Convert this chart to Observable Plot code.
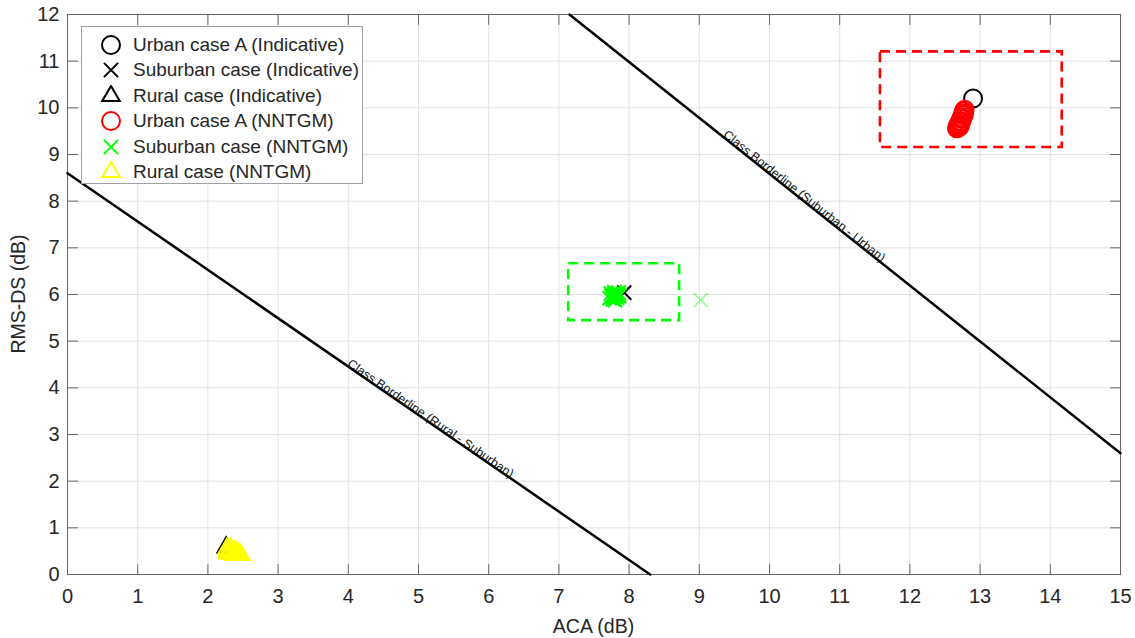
<!DOCTYPE html>
<html>
<head>
<meta charset="utf-8">
<script src="https://cdn.jsdelivr.net/npm/d3@7"></script>
<script src="https://cdn.jsdelivr.net/npm/@observablehq/plot@0.6"></script>
<style>
  body { margin: 0; background: #fff; }
  #wrap { position: relative; width: 1135px; height: 638px; font-family: "Liberation Sans", Arial, sans-serif; }
  #legend { position: absolute; left: 81px; top: 26px; width: 282px; height: 158px; border: 1px solid #a0a0a0; background: #fff; box-sizing: border-box; }
  .row { position: absolute; left: 0; height: 26px; display: flex; align-items: center; font-size: 19px; color: #262626; white-space: nowrap; }
  .row svg { margin-left: 18px; margin-right: 11px; }
  .atitle { position: absolute; font-size: 19.5px; color: #262626; white-space: nowrap; transform-origin: center center; }
</style>
</head>
<body>
<div id="wrap"><div id="legend"></div></div>
<script>
// ---------- data ----------
const xTicks = [0, 1, 2, 3, 4, 5, 6, 7, 8, 9, 10, 11, 12, 13, 14, 15];
const yTicks = [0, 1, 2, 3, 4, 5, 6, 7, 8, 9, 10, 11, 12];
const xTitle = "ACA (dB)";
const yTitle = "RMS-DS (dB)";

const legendLabels = [
  "Urban case A (Indicative)",
  "Suburban case (Indicative)",
  "Rural case (Indicative)",
  "Urban case A (NNTGM)",
  "Suburban case (NNTGM)",
  "Rural case (NNTGM)"
];
const legendSymbols = ["circle", "times", "triangle", "circle", "times", "triangle"];
const legendColors = ["#000000", "#000000", "#000000", "#ff0000", "#00ff00", "#ffff00"];

// Indicative (ACA, RMS-DS)
const urbanIndicative = [[12.9, 10.2]];
const suburbanIndicative = [[7.93, 6.04]];
const ruralIndicative = [[2.26, 0.58]];

// NNTGM (ACA, RMS-DS)
const urbanNNTGM = [
  [12.67, 9.56], [12.68, 9.6], [12.69, 9.63], [12.69, 9.58], [12.7, 9.66],
  [12.71, 9.69], [12.7, 9.62], [12.72, 9.72], [12.73, 9.76], [12.74, 9.8],
  [12.75, 9.84], [12.76, 9.88], [12.77, 9.92], [12.78, 9.96], [12.71, 9.6],
  [12.73, 9.7], [12.75, 9.78], [12.77, 9.86]
];
const suburbanNNTGM = [
  [7.72, 5.92], [7.75, 5.96], [7.78, 6.0], [7.8, 5.95], [7.82, 6.02],
  [7.84, 5.98], [7.85, 6.04], [7.77, 5.9], [7.8, 5.88], [7.83, 5.93],
  [7.86, 5.97], [7.74, 6.02], [7.79, 6.05], [7.76, 5.94], [7.81, 5.99]
];
const suburbanNNTGMOutlier = [[9.02, 5.88]];
const ruralNNTGM = [
  [2.27, 0.55], [2.3, 0.52], [2.33, 0.5], [2.36, 0.48], [2.4, 0.45],
  [2.44, 0.43], [2.47, 0.42], [2.3, 0.47], [2.35, 0.44], [2.38, 0.5],
  [2.28, 0.45], [2.42, 0.48], [2.32, 0.56], [2.29, 0.5], [2.37, 0.42]
];

// class borderlines (end points) and their labels
const borderRuralSuburban = [[0, 8.6], [8.3, 0]];
const borderSuburbanUrban = [[7.15, 12], [15, 2.6]];
const borderLabels = ["Class Borderline (Rural - Suburban)", "Class Borderline (Suburban - Urban)"];
const borderLabelX = [5.14, 10.46];
const borderLabelY = [3.27, 8.04];

// dashed boxes around clusters
const boxX1 = [7.14, 11.58];
const boxX2 = [8.72, 14.17];
const boxY1 = [5.44, 9.15];
const boxY2 = [6.66, 11.2];
const boxColors = ["#00ff00", "#ff0000"];

// ---------- layout ----------
const W = 1135, H = 638;
const mL = 67, mR = 15, mT = 14, mB = 64;
const xDomain = [0, 15], yDomain = [0, 12];
const kx = (W - mL - mR) / (xDomain[1] - xDomain[0]);
const ky = (H - mT - mB) / (yDomain[1] - yDomain[0]);
const lineAngle = (seg) => Math.atan2(-(seg[1][1] - seg[0][1]) * ky, (seg[1][0] - seg[0][0]) * kx) * 180 / Math.PI;
const borderAngles = [lineAngle(borderRuralSuburban), lineAngle(borderSuburbanUrban)];
const labelData = borderLabels.map((t, i) => ({t, x: borderLabelX[i], y: borderLabelY[i], a: borderAngles[i]}));
const boxes = boxX1.map((_, i) => ({x1: boxX1[i], x2: boxX2[i], y1: boxY1[i], y2: boxY2[i], c: boxColors[i]}));

const axisColor = "#666666";
const tickShape = {draw(context, l) { context.moveTo(0, 0); context.lineTo(0, -l); }};
const tickLen = 10;
const X = d => d[0], Y = d => d[1];

const chart = Plot.plot({
  width: W, height: H,
  marginLeft: mL, marginRight: mR, marginTop: mT, marginBottom: mB,
  x: {domain: xDomain},
  y: {domain: yDomain},
  style: {fontFamily: "Liberation Sans, Arial, sans-serif", fontSize: "20px", color: "#262626", background: "white"},
  marks: [
    Plot.gridX(xTicks, {stroke: "#e2e2e2", strokeOpacity: 1}),
    Plot.gridY(yTicks, {stroke: "#e2e2e2", strokeOpacity: 1}),
    // inward ticks on all four sides
    Plot.vector(xTicks, {x: d => d, frameAnchor: "bottom", rotate: 0, length: tickLen, anchor: "start", shape: tickShape, stroke: axisColor, strokeWidth: 1, fill: "none"}),
    Plot.vector(xTicks, {x: d => d, frameAnchor: "top", rotate: 180, length: tickLen, anchor: "start", shape: tickShape, stroke: axisColor, strokeWidth: 1, fill: "none"}),
    Plot.vector(yTicks, {y: d => d, frameAnchor: "left", rotate: 90, length: tickLen, anchor: "start", shape: tickShape, stroke: axisColor, strokeWidth: 1, fill: "none"}),
    Plot.vector(yTicks, {y: d => d, frameAnchor: "right", rotate: -90, length: tickLen, anchor: "start", shape: tickShape, stroke: axisColor, strokeWidth: 1, fill: "none"}),
    Plot.axisX({ticks: xTicks, tickSize: 0, tickPadding: 14, fontSize: 20, label: null}),
    Plot.axisY({ticks: yTicks, tickSize: 0, tickPadding: 8, fontSize: 20, label: null}),
    Plot.frame({stroke: axisColor, strokeWidth: 1}),
    // borderlines
    Plot.line(borderRuralSuburban, {x: X, y: Y, stroke: "#000", strokeWidth: 2.5}),
    Plot.line(borderSuburbanUrban, {x: X, y: Y, stroke: "#000", strokeWidth: 2.5}),
    Plot.text(labelData, {x: "x", y: "y", text: "t", rotate: "a", lineAnchor: "bottom", textAnchor: "middle", fontSize: 12.5, fill: "#111"}),
    // dashed boxes
    Plot.rect(boxes, {x1: "x1", x2: "x2", y1: "y1", y2: "y2", fill: "none", stroke: "c", strokeWidth: 2.6, strokeDasharray: "10,6"}),
    // indicative (black)
    Plot.dot(urbanIndicative, {x: X, y: Y, symbol: "circle", r: 9, stroke: "#000", strokeWidth: 2, fill: "none"}),
    Plot.dot(suburbanIndicative, {x: X, y: Y, symbol: "times", r: 6.5, stroke: "#000", strokeWidth: 2, fill: "none"}),
    Plot.dot(ruralIndicative, {x: X, y: Y, symbol: "triangle", r: 6.5, stroke: "#000", strokeWidth: 2, fill: "none"}),
    // NNTGM (colored)
    Plot.dot(urbanNNTGM, {x: X, y: Y, symbol: "circle", r: 9, stroke: "#ff0000", strokeWidth: 2, fill: "none"}),
    Plot.dot(suburbanNNTGM, {x: X, y: Y, symbol: "times", r: 6.5, stroke: "#00ff00", strokeWidth: 2, fill: "none"}),
    Plot.dot(suburbanNNTGMOutlier, {x: X, y: Y, symbol: "times", r: 6.5, stroke: "#00ff00", strokeOpacity: 0.55, strokeWidth: 1.2, fill: "none"}),
    Plot.dot(ruralNNTGM, {x: X, y: Y, symbol: "triangle", r: 6.5, stroke: "#ffff00", strokeWidth: 2, fill: "none"})
  ]
});
const wrap = document.getElementById("wrap");
wrap.insertBefore(chart, wrap.firstChild);

// ---------- axis titles (HTML, centred on the plot frame) ----------
const xt = d3.select(wrap).append("div").attr("class", "atitle").text(xTitle)
  .style("left", (mL + (W - mL - mR) / 2) + "px").style("top", "626px")
  .style("transform", "translate(-50%, -50%)");
const yt = d3.select(wrap).append("div").attr("class", "atitle").text(yTitle)
  .style("left", "18px").style("top", (mT + (H - mT - mB) / 2) + "px")
  .style("transform", "translate(-50%, -50%) rotate(-90deg)");

// ---------- legend ----------
const symbolMap = {circle: [d3.symbolCircle, 9], times: [d3.symbolTimes, 6.5], triangle: [d3.symbolTriangle, 6.5]};
const legend = d3.select("#legend");
legendLabels.forEach((label, i) => {
  const row = legend.append("div").attr("class", "row").style("top", (5 + i * 25.4) + "px");
  const svg = row.append("svg").attr("width", 22).attr("height", 22).attr("viewBox", "-11 -11 22 22");
  const [sym, r] = symbolMap[legendSymbols[i]];
  svg.append("path")
    .attr("d", d3.symbol(sym, Math.PI * r * r)())
    .attr("fill", "none")
    .attr("stroke", legendColors[i])
    .attr("stroke-width", 2);
  row.append("span").text(label);
});
</script>
</body>
</html>
